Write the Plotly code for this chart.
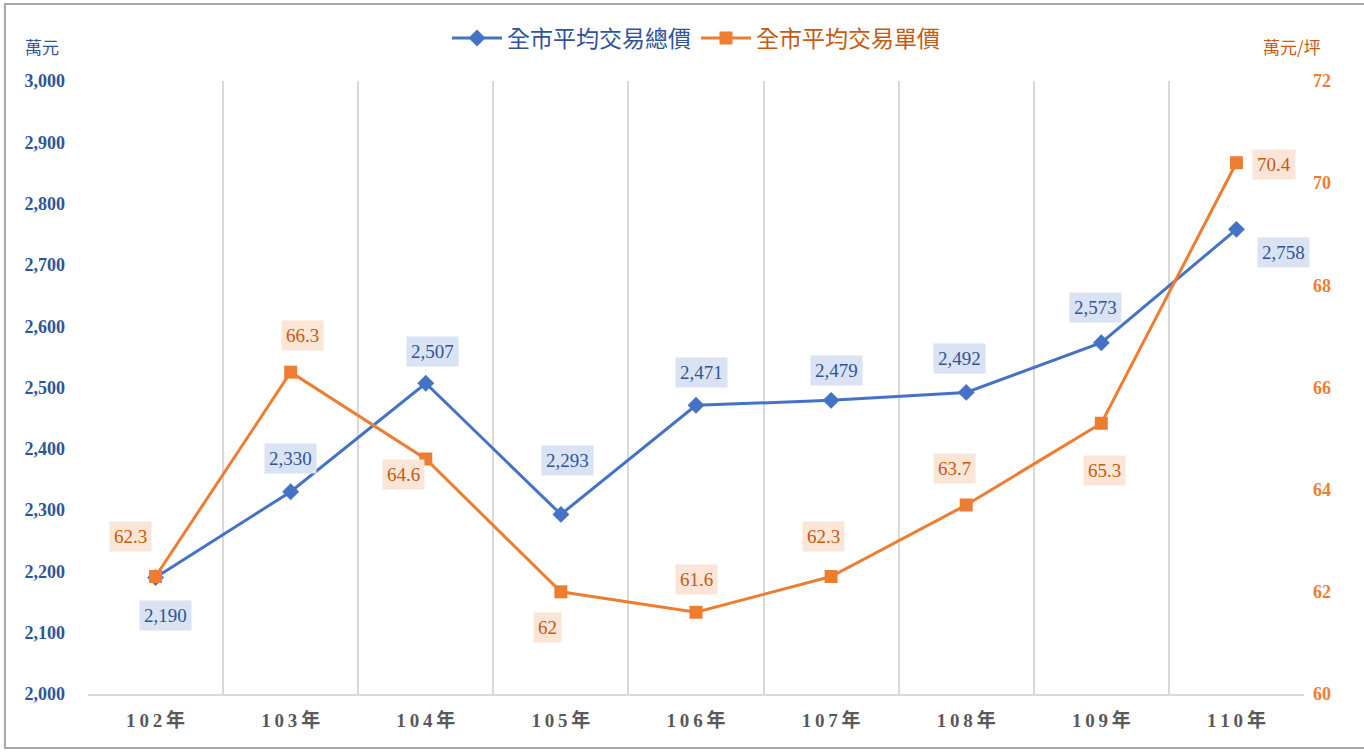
import plotly.graph_objects as go

years = ["102年", "103年", "104年", "105年", "106年", "107年", "108年", "109年", "110年"]
total_price = [2190, 2330, 2507, 2293, 2471, 2479, 2492, 2573, 2758]
unit_price = [62.3, 66.3, 64.6, 62.0, 61.6, 62.3, 63.7, 65.3, 70.4]
unit_labels = ["62.3", "66.3", "64.6", "62", "61.6", "62.3", "63.7", "65.3", "70.4"]

name_total = "全市平均交易總價"
name_unit = "全市平均交易單價"

BLUE = "#4472C4"
ORANGE = "#ED7D31"
BLUE_TXT = "#2F5597"
ORANGE_TXT = "#C55A11"
SERIF = "Liberation Serif, Times New Roman, Noto Sans CJK TC, serif"
CJK = "Noto Sans CJK TC, Liberation Serif, serif"

# label offsets (px) relative to each point
total_shift = [(10, -38), (0, 33), (7, 32), (7, 54), (5, 33), (5, 30), (-7, 34), (-6, 35), (47, -23)]
unit_shift = [(-25, 40), (12, 37), (-22, -15), (-13, -36), (0, 33), (-8, 40), (-12, 36), (3, -47), (38, -2)]

spaced_years = ["\u2009".join(y) for y in years]

fig = go.Figure()
fig.add_trace(go.Scatter(
    x=years, y=total_price, name=f"<span style='color:{BLUE_TXT}'>{name_total}</span>",
    mode="lines+markers", line=dict(color=BLUE, width=3),
    marker=dict(symbol="diamond", size=13, color=BLUE), yaxis="y"))
fig.add_trace(go.Scatter(
    x=years, y=unit_price, name=f"<span style='color:{ORANGE_TXT}'>{name_unit}</span>",
    mode="lines+markers", line=dict(color=ORANGE, width=3),
    marker=dict(symbol="square", size=13, color=ORANGE), yaxis="y2"))

annotations = []
for x, v, (dx, dy) in zip(years, total_price, total_shift):
    annotations.append(dict(x=x, y=v, xref="x", yref="y", text=f"{v:,}", showarrow=False,
                            xshift=dx, yshift=dy, bgcolor="#DAE3F3",
                            font=dict(family=SERIF, size=19, color=BLUE_TXT), borderpad=4))
for x, v, t, (dx, dy) in zip(years, unit_price, unit_labels, unit_shift):
    annotations.append(dict(x=x, y=v, xref="x", yref="y2", text=t, showarrow=False,
                            xshift=dx, yshift=dy, bgcolor="#FBE5D6",
                            font=dict(family=SERIF, size=19, color=ORANGE_TXT), borderpad=4))
annotations.append(dict(x=-0.0378, y=1.0555, xref="paper", yref="paper", text="萬元", showarrow=False,
                        xanchor="center", yanchor="middle",
                        font=dict(family=CJK, size=17, color=BLUE_TXT)))
annotations.append(dict(x=0.990, y=1.0555, xref="paper", yref="paper", text="萬元/坪", showarrow=False,
                        xanchor="center", yanchor="middle",
                        font=dict(family=CJK, size=17, color=ORANGE_TXT)))

fig.update_layout(
    width=1364, height=754,
    margin=dict(l=88, r=60, t=81, b=60, autoexpand=False),
    paper_bgcolor="white", plot_bgcolor="white",
    showlegend=True,
    legend=dict(orientation="h", x=0.5, xanchor="center", y=1.07, yanchor="middle",
                bgcolor="rgba(0,0,0,0)", font=dict(family=CJK, size=23),
                traceorder="normal", itemwidth=50),
    xaxis=dict(type="category", range=[-0.5, 8.5], tickson="boundaries", showgrid=True,
               gridcolor="#D9D9D9", gridwidth=2, showline=True, linecolor="#D9D9D9", linewidth=2,
               ticks="", tickmode="array", tickvals=years, ticktext=spaced_years,
               tickfont=dict(family=SERIF, size=19, color="#595959", weight="bold"),
               ticklabelstandoff=8),
    yaxis=dict(range=[2000, 3000], dtick=100, tickformat=",", showgrid=False, zeroline=False,
               ticks="", tickfont=dict(family=SERIF, size=18, color=BLUE_TXT, weight="bold"),
               ticklabelstandoff=22),
    yaxis2=dict(range=[60, 72], dtick=2, overlaying="y", side="right", showgrid=False, zeroline=False,
                ticks="", tickfont=dict(family=SERIF, size=18, color=ORANGE, weight="bold"),
                ticklabelstandoff=8),
    annotations=annotations,
    shapes=[dict(type="rect", xref="paper", yref="paper", x0=-0.0683, x1=1.0822, y0=-0.0881, y1=1.1256,
                 line=dict(color="#A6A6A6", width=2), fillcolor="rgba(0,0,0,0)", layer="below")],
)

fig.write_html("out.html", config={"displayModeBar": False},
               post_script="document.body.style.margin='0px';")
